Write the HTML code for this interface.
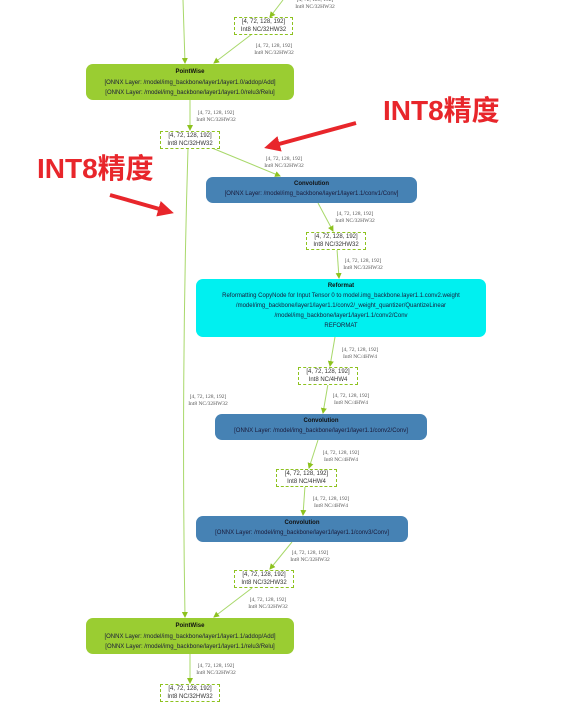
<!DOCTYPE html>
<html><head><meta charset="utf-8"><style>
body{margin:0;width:572px;height:695px;background:#fff;position:relative;overflow:hidden;font-family:"Liberation Sans",sans-serif}
.n{position:absolute;border-radius:7px;text-align:center;font-size:6px;color:#1a1a3a;box-sizing:border-box}
.n b{display:block;font-size:6px;margin-top:5px;margin-bottom:5px;color:#111}
.n div{margin-bottom:4px}
.pw{background:#9acd32}
.cv{background:#4682b4}
.rf{background:#00f0f0}
.bx{position:absolute;border:1.5px dashed #8dc21f;background:#fff;font-size:6px;text-align:center;line-height:7.5px;color:#333;box-sizing:border-box;padding-top:1px}
.lb{position:absolute;font-family:"Liberation Serif",serif;font-size:5.5px;line-height:6.5px;color:#555;text-align:center}
.red{position:absolute;color:#e8262b;font-weight:bold;font-size:28px;font-family:"Liberation Sans","Noto Sans CJK SC",sans-serif;line-height:32px}
svg{position:absolute;left:0;top:0}
</style></head><body>
<svg width="572" height="695">
<defs><marker id="a" markerWidth="6" markerHeight="6" refX="5" refY="3" orient="auto"><path d="M0,0L6,3L0,6z" fill="#8dc21f"/></marker>
<marker id="r" markerWidth="4" markerHeight="4" refX="3" refY="2" orient="auto"><path d="M0,0L4,2L0,4z" fill="#e8262b"/></marker></defs>
<g stroke="#a8d86a" stroke-width="1" fill="none">
<path d="M183,0 L185,63" marker-end="url(#a)"/>
<path d="M283,0 L270,17" marker-end="url(#a)"/>
<path d="M252,34 L214,63" marker-end="url(#a)"/>
<path d="M190,100 L190,130" marker-end="url(#a)"/>
<path d="M212,148 L280,176" marker-end="url(#a)"/>
<path d="M188,148 Q181,380 185,617" marker-end="url(#a)"/>
<path d="M318,203 L333,231" marker-end="url(#a)"/>
<path d="M337,249 L339,278" marker-end="url(#a)"/>
<path d="M335,337 L330,366" marker-end="url(#a)"/>
<path d="M328,384 L323,413" marker-end="url(#a)"/>
<path d="M318,440 L309,468" marker-end="url(#a)"/>
<path d="M305,486 L303,515" marker-end="url(#a)"/>
<path d="M292,542 L270,569" marker-end="url(#a)"/>
<path d="M252,588 L214,617" marker-end="url(#a)"/>
<path d="M190,654 L190,683" marker-end="url(#a)"/>
</g>
<path d="M356,123 L268,147" stroke="#e8262b" stroke-width="4" marker-end="url(#r)"/>
<path d="M110,195 L170,212" stroke="#e8262b" stroke-width="4" marker-end="url(#r)"/>
</svg>
<div class="lb" style="left:285px;top:-3px;width:60px">[4, 72, 128, 192]<br>Int8 NC/32HW32</div>
<div class="bx" style="left:234px;top:17px;width:59px;height:18px">[4, 72, 128, 192]<br>Int8 NC/32HW32</div>
<div class="lb" style="left:244px;top:43px;width:60px">[4, 72, 128, 192]<br>Int8 NC/32HW32</div>
<div class="n pw" style="left:86px;top:64px;width:208px;height:36px"><b>PointWise</b><div>[ONNX Layer: /model/img_backbone/layer1/layer1.0/addop/Add]</div><div>[ONNX Layer: /model/img_backbone/layer1/layer1.0/relu3/Relu]</div></div>
<div class="lb" style="left:186px;top:110px;width:60px">[4, 72, 128, 192]<br>Int8 NC/32HW32</div>
<div class="bx" style="left:160px;top:131px;width:60px;height:18px">[4, 72, 128, 192]<br>Int8 NC/32HW32</div>
<div class="lb" style="left:254px;top:156px;width:60px">[4, 72, 128, 192]<br>Int8 NC/32HW32</div>
<div class="red" style="left:383px;top:95px">INT8精度</div>
<div class="red" style="left:37px;top:153px">INT8精度</div>
<div class="n cv" style="left:206px;top:177px;width:211px;height:26px"><b style="margin-top:4px;margin-bottom:4px">Convolution</b><div>[ONNX Layer: /model/img_backbone/layer1/layer1.1/conv1/Conv]</div></div>
<div class="lb" style="left:325px;top:211px;width:60px">[4, 72, 128, 192]<br>Int8 NC/32HW32</div>
<div class="bx" style="left:306px;top:232px;width:60px;height:18px">[4, 72, 128, 192]<br>Int8 NC/32HW32</div>
<div class="lb" style="left:333px;top:258px;width:60px">[4, 72, 128, 192]<br>Int8 NC/32HW32</div>
<div class="n rf" style="left:196px;top:279px;width:290px;height:58px"><b style="margin-top:4px;margin-bottom:4px">Reformat</b><div style="margin-bottom:4px">Reformatting CopyNode for Input Tensor 0 to model.img_backbone.layer1.1.conv2.weight</div><div style="margin-bottom:4px">/model/img_backbone/layer1/layer1.1/conv2/_weight_quantizer/QuantizeLinear</div><div style="margin-bottom:4px">/model/img_backbone/layer1/layer1.1/conv2/Conv</div><div>REFORMAT</div></div>
<div class="lb" style="left:330px;top:347px;width:60px">[4, 72, 128, 192]<br>Int8 NC/4HW4</div>
<div class="bx" style="left:298px;top:367px;width:60px;height:18px">[4, 72, 128, 192]<br>Int8 NC/4HW4</div>
<div class="lb" style="left:178px;top:394px;width:60px">[4, 72, 128, 192]<br>Int8 NC/32HW32</div>
<div class="lb" style="left:321px;top:393px;width:60px">[4, 72, 128, 192]<br>Int8 NC/4HW4</div>
<div class="n cv" style="left:215px;top:414px;width:212px;height:26px"><b style="margin-top:4px;margin-bottom:4px">Convolution</b><div>[ONNX Layer: /model/img_backbone/layer1/layer1.1/conv2/Conv]</div></div>
<div class="lb" style="left:311px;top:450px;width:60px">[4, 72, 128, 192]<br>Int8 NC/4HW4</div>
<div class="bx" style="left:276px;top:469px;width:61px;height:18px">[4, 72, 128, 192]<br>Int8 NC/4HW4</div>
<div class="lb" style="left:301px;top:496px;width:60px">[4, 72, 128, 192]<br>Int8 NC/4HW4</div>
<div class="n cv" style="left:196px;top:516px;width:212px;height:26px"><b style="margin-top:4px;margin-bottom:4px">Convolution</b><div>[ONNX Layer: /model/img_backbone/layer1/layer1.1/conv3/Conv]</div></div>
<div class="lb" style="left:280px;top:550px;width:60px">[4, 72, 128, 192]<br>Int8 NC/32HW32</div>
<div class="bx" style="left:234px;top:570px;width:60px;height:18px">[4, 72, 128, 192]<br>Int8 NC/32HW32</div>
<div class="lb" style="left:238px;top:597px;width:60px">[4, 72, 128, 192]<br>Int8 NC/32HW32</div>
<div class="n pw" style="left:86px;top:618px;width:208px;height:36px"><b>PointWise</b><div>[ONNX Layer: /model/img_backbone/layer1/layer1.1/addop/Add]</div><div>[ONNX Layer: /model/img_backbone/layer1/layer1.1/relu3/Relu]</div></div>
<div class="lb" style="left:186px;top:663px;width:60px">[4, 72, 128, 192]<br>Int8 NC/32HW32</div>
<div class="bx" style="left:160px;top:684px;width:60px;height:18px">[4, 72, 128, 192]<br>Int8 NC/32HW32</div>
</body></html>
